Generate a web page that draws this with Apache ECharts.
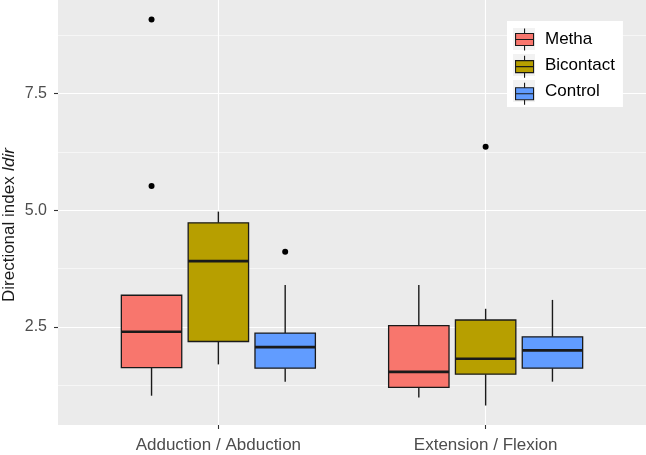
<!DOCTYPE html>
<html>
<head>
<meta charset="utf-8">
<script src="https://cdn.jsdelivr.net/npm/echarts@6/dist/echarts.min.js"></script>
<style>
html,body{margin:0;padding:0;background:#fff;}
#chart{width:646px;height:455px;}
</style>
</head>
<body>
<div id="chart"></div>
<script>
// ---- data ----
const categories = ['Adduction / Abduction', 'Extension / Flexion'];
const groups = ['Metha', 'Bicontact', 'Control'];
// per category: [min, Q1, median, Q3, max]
const methaStats = [[1.03, 1.63, 2.40, 3.18, 3.18], [0.99, 1.21, 1.54, 2.53, 3.40]];
const bicontactStats = [[1.70, 2.19, 3.91, 4.73, 4.97], [0.82, 1.49, 1.82, 2.65, 2.89]];
const controlStats = [[1.33, 1.62, 2.07, 2.37, 3.40], [1.33, 1.62, 2.00, 2.29, 3.08]];
// outliers: [category index, value]
const methaOutliers = [[0, 9.08], [0, 5.52]];
const bicontactOutliers = [[1, 6.36]];
const controlOutliers = [[0, 4.11]];
const yTicks = [2.5, 5.0, 7.5];
const yMinorTicks = [1.25, 3.75, 6.25, 8.75];

const statsList = [methaStats, bicontactStats, controlStats];
const outlierList = [methaOutliers, bicontactOutliers, controlOutliers];
const colors = ['#F8766D', '#B79F00', '#619CFF'];
const dodge = [-0.25, 0, 0.25];
const boxW = 0.226;
const FONT = 'Liberation Sans, Arial, sans-serif';
const edge = '#1a1a1a';

function makeRender(k) {
  return function (params, api) {
    const xc = api.value(0) + dodge[k];
    const pMin = api.coord([xc, api.value(1)]);
    const pQ1 = api.coord([xc, api.value(2)]);
    const pMed = api.coord([xc, api.value(3)]);
    const pQ3 = api.coord([xc, api.value(4)]);
    const pMax = api.coord([xc, api.value(5)]);
    const left = api.coord([xc - boxW / 2, api.value(3)])[0];
    const right = api.coord([xc + boxW / 2, api.value(3)])[0];
    const children = [];
    if (pMax[1] < pQ3[1]) children.push({type: 'line', shape: {x1: pMax[0], y1: pMax[1], x2: pQ3[0], y2: pQ3[1]}, style: {stroke: edge, lineWidth: 1.4}});
    if (pMin[1] > pQ1[1]) children.push({type: 'line', shape: {x1: pMin[0], y1: pMin[1], x2: pQ1[0], y2: pQ1[1]}, style: {stroke: edge, lineWidth: 1.4}});
    children.push({type: 'rect', shape: {x: left, y: pQ3[1], width: right - left, height: pQ1[1] - pQ3[1]}, style: {fill: colors[k], stroke: edge, lineWidth: 1.3}});
    children.push({type: 'line', shape: {x1: left, y1: pMed[1], x2: right, y2: pMed[1]}, style: {stroke: edge, lineWidth: 2.6}});
    return {type: 'group', children: children};
  };
}

const series = [];
groups.forEach(function (g, k) {
  series.push({
    type: 'custom',
    name: g,
    xAxisIndex: 0, yAxisIndex: 0,
    itemStyle: {color: colors[k], borderColor: edge},
    encode: {x: 0, y: [1, 2, 3, 4, 5]},
    data: statsList[k].map(function (s, i) { return [i + 1].concat(s); }),
    renderItem: makeRender(k),
    z: 3
  });
});
groups.forEach(function (g, k) {
  series.push({
    type: 'scatter',
    name: g + ' outliers',
    xAxisIndex: 0, yAxisIndex: 0,
    symbolSize: 6,
    itemStyle: {color: '#000', opacity: 1},
    data: outlierList[k].map(function (o) { return [o[0] + 1 + dodge[k], o[1]]; }),
    z: 4
  });
});

const boxIcon = 'path://M9,0L9,5M9,17L9,22M0,5L18,5L18,17L0,17ZM0,11L18,11';

const option = {
  animation: false,
  backgroundColor: '#fff',
  grid: {left: 58, right: 0, top: 0, bottom: 30, containLabel: false, outerBoundsMode: 'none', backgroundColor: '#EBEBEB', show: true, borderWidth: 0},
  xAxis: {
    type: 'value', min: 0.4, max: 2.6,
    axisLine: {show: false},
    axisTick: {show: true, length: 4, lineStyle: {color: '#333', width: 1.1}, customValues: [1, 2]},
    axisLabel: {customValues: [1, 2], formatter: function (v) { return categories[Math.round(v) - 1]; }, fontSize: 17, color: '#4D4D4D', fontFamily: FONT, margin: 12},
    splitLine: {show: true, lineStyle: {color: '#fff', width: 1.1}}
  },
  yAxis: [{
    type: 'value', min: 0.403, max: 9.498,
    axisLine: {show: false},
    axisTick: {show: true, length: 4, lineStyle: {color: '#333', width: 1.1}, customValues: yTicks},
    axisLabel: {customValues: yTicks, formatter: function (v) { return v.toFixed(1); }, fontSize: 16, color: '#4D4D4D', fontFamily: FONT, margin: 11},
    splitLine: {show: true, lineStyle: {color: '#fff', width: 1.1}},
    name: '{a|Directional index }{b|Idir}',
    nameLocation: 'middle',
    nameMoveOverlap: false,
    nameGap: 40,
    nameTextStyle: {
      fontSize: 17, color: '#1a1a1a', fontFamily: FONT, padding: [0, 25, 0, 0],
      rich: {a: {fontSize: 17, color: '#1a1a1a', fontFamily: FONT}, b: {fontSize: 17, color: '#1a1a1a', fontFamily: FONT, fontStyle: 'italic'}}
    }
  }, {
    type: 'value', min: 0.403, max: 9.498, position: 'left',
    axisLine: {show: false},
    axisTick: {show: false, customValues: yMinorTicks},
    axisLabel: {show: false},
    splitLine: {show: true, lineStyle: {color: '#fff', width: 0.55}}
  }],
  legend: [{
    data: groups, orient: 'vertical', left: 507, top: 21,
    padding: [7, 8, 5, 6], itemGap: 4, itemWidth: 22, itemHeight: 22,
    backgroundColor: '#fff', selectedMode: false, icon: 'rect',
    itemStyle: {color: '#F2F2F2', borderWidth: 0},
    textStyle: {fontSize: 17, color: '#000', fontFamily: FONT, padding: [0, 0, 0, 5]}
  }, {
    data: groups, orient: 'vertical', left: 509, top: 21,
    padding: [7, 8, 5, 6], itemGap: 4, itemWidth: 18, itemHeight: 22,
    selectedMode: false, icon: boxIcon,
    itemStyle: {borderColor: edge, borderWidth: 1.1},
    textStyle: {fontSize: 17, color: 'rgba(0,0,0,0)', fontFamily: FONT, padding: [0, 0, 0, 5]}
  }],
  series: series
};

const chart = echarts.init(document.getElementById('chart'), null, {renderer: 'canvas'});
chart.setOption(option);
</script>
</body>
</html>
